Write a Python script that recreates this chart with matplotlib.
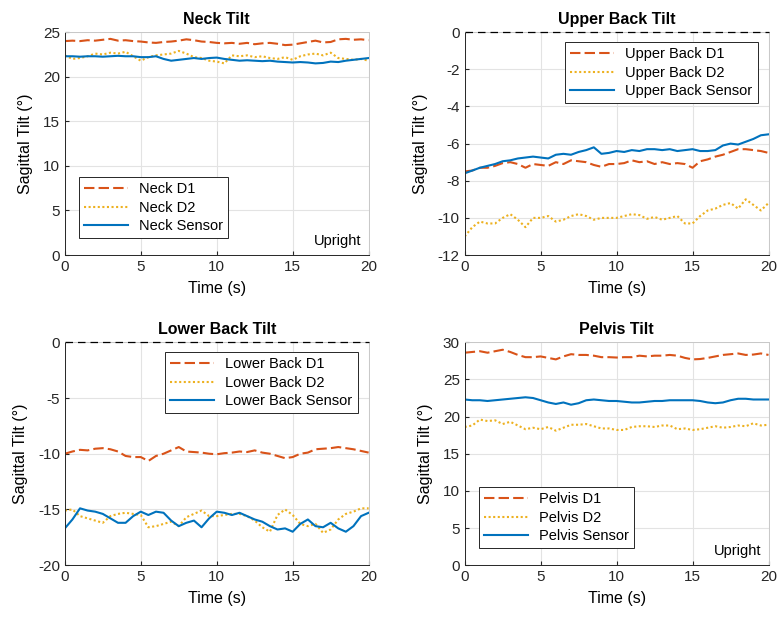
import matplotlib
matplotlib.use("Agg")
import matplotlib.pyplot as plt
import numpy as np

plt.rcParams['font.family'] = ['Liberation Sans', 'DejaVu Sans']
plt.rcParams['axes.unicode_minus'] = False

# time base, one sample every 0.5 s
t = np.arange(0, 20.5, 0.5)

neck_d1 = [24.0, 24.05, 24.0, 24.1, 24.05, 24.15, 24.25, 24.05, 24.1, 24.0, 23.95, 23.85, 23.8, 23.9,
           23.95, 24.05, 24.2, 24.1, 23.95, 23.9, 23.8, 23.75, 23.8, 23.7, 23.8, 23.65, 23.75, 23.8,
           23.7, 23.55, 23.6, 23.75, 23.9, 24.05, 23.85, 23.9, 24.2, 24.25, 24.15, 24.2, 24.1]
neck_d2 = [22.4, 22.0, 22.1, 22.3, 22.6, 22.5, 22.7, 22.6, 22.8, 22.3, 21.8, 22.2, 22.4, 22.5,
           22.6, 22.9, 22.6, 22.2, 22.1, 21.8, 21.7, 21.5, 22.4, 22.3, 22.4, 22.2, 22.3, 22.1,
           22.0, 22.2, 21.9, 22.3, 22.5, 22.6, 22.4, 22.7, 22.1, 22.0, 21.9, 22.0, 21.8]
neck_sensor = [22.3, 22.3, 22.25, 22.3, 22.3, 22.25, 22.3, 22.35, 22.3, 22.3, 22.2, 22.2, 22.3, 22.0,
               21.8, 21.9, 22.0, 22.1, 22.0, 22.1, 22.15, 22.0, 21.9, 21.8, 21.85, 21.8, 21.75, 21.8,
               21.7, 21.65, 21.6, 21.65, 21.6, 21.5, 21.55, 21.7, 21.65, 21.8, 21.9, 22.0, 22.1]

upper_d1 = [-7.5, -7.45, -7.3, -7.3, -7.2, -7.05, -7.0, -7.1, -7.3, -7.1, -7.15, -7.2, -7.0, -7.1,
            -6.9, -6.95, -7.0, -7.15, -7.25, -7.1, -7.1, -7.05, -6.9, -7.0, -6.95, -7.1, -7.0, -7.1,
            -7.05, -7.1, -7.3, -6.95, -6.85, -6.7, -6.6, -6.45, -6.3, -6.3, -6.35, -6.4, -6.5]
upper_d2 = [-11.0, -10.5, -10.2, -10.3, -10.3, -10.0, -9.8, -10.1, -10.5, -10.0, -10.0, -9.9, -10.2, -10.1,
            -9.9, -9.8, -9.9, -10.1, -10.0, -10.0, -10.0, -9.9, -9.8, -9.85, -10.05, -9.95, -10.1, -10.0,
            -9.9, -10.3, -10.3, -9.9, -9.6, -9.5, -9.3, -9.2, -9.5, -9.0, -9.3, -9.6, -9.2]
upper_sensor = [-7.6, -7.45, -7.3, -7.2, -7.1, -6.95, -6.9, -6.8, -6.75, -6.7, -6.75, -6.8, -6.6, -6.55,
                -6.6, -6.45, -6.35, -6.2, -6.55, -6.5, -6.4, -6.45, -6.35, -6.4, -6.3, -6.3, -6.35, -6.3,
                -6.4, -6.35, -6.3, -6.4, -6.4, -6.35, -6.1, -6.0, -6.05, -5.9, -5.75, -5.55, -5.5]

lower_d1 = [-10.0, -9.8, -9.65, -9.7, -9.55, -9.5, -9.6, -9.8, -10.2, -10.3, -10.3, -10.65, -10.2, -10.0,
            -9.7, -9.4, -9.8, -9.85, -9.9, -10.0, -10.05, -9.95, -9.9, -9.8, -9.85, -9.7, -9.9, -10.0,
            -10.2, -10.4, -10.3, -10.0, -9.9, -9.6, -9.55, -9.5, -9.4, -9.5, -9.6, -9.75, -9.9]
lower_d2 = [-15.1, -15.0, -15.6, -15.8, -16.0, -16.2, -15.6, -15.4, -15.3, -15.4, -15.5, -16.6, -16.5, -16.3,
            -16.1, -16.5, -15.7, -15.4, -15.1, -15.6, -15.6, -15.5, -15.4, -15.4, -15.6, -16.0, -16.6, -17.0,
            -15.5, -15.0, -15.5, -16.3, -16.5, -16.3, -17.1, -16.8, -15.9, -15.4, -15.2, -14.9, -14.9]
lower_sensor = [-16.7, -15.9, -14.9, -15.1, -15.2, -15.4, -15.8, -16.2, -16.2, -15.6, -15.2, -15.5, -15.2, -15.3,
                -16.0, -16.5, -16.2, -16.0, -16.6, -15.8, -15.2, -15.3, -15.5, -15.3, -15.6, -15.9, -16.1, -16.5,
                -16.8, -16.7, -17.0, -16.3, -15.9, -16.5, -16.6, -16.2, -16.7, -17.0, -16.5, -15.6, -15.3]

pelvis_d1 = [28.6, 28.7, 28.8, 28.6, 28.8, 29.0, 28.7, 28.3, 28.0, 28.0, 28.1, 27.9, 27.7, 28.1,
             28.4, 28.3, 28.3, 28.2, 28.0, 28.0, 27.95, 28.0, 28.0, 28.2, 28.1, 28.2, 28.2, 28.3,
             28.2, 27.9, 27.7, 27.75, 27.9, 28.1, 28.3, 28.4, 28.5, 28.3, 28.35, 28.5, 28.3]
pelvis_d2 = [18.6, 18.8, 19.6, 19.4, 19.5, 19.0, 19.3, 18.8, 18.3, 18.5, 18.3, 18.6, 18.1, 18.5,
             18.9, 18.9, 19.0, 18.7, 18.4, 18.4, 18.2, 18.2, 18.6, 18.7, 18.7, 18.6, 18.8, 18.8,
             18.3, 18.4, 18.2, 18.3, 18.5, 18.7, 18.5, 18.6, 18.8, 18.7, 19.1, 18.8, 18.9]
pelvis_sensor = [22.3, 22.2, 22.2, 22.1, 22.2, 22.3, 22.4, 22.5, 22.6, 22.5, 22.2, 21.9, 21.7, 21.9,
                 21.6, 21.8, 22.2, 22.3, 22.2, 22.1, 22.1, 22.0, 21.9, 21.9, 22.0, 22.1, 22.1, 22.2,
                 22.2, 22.2, 22.2, 22.1, 21.9, 21.8, 21.9, 22.2, 22.4, 22.4, 22.3, 22.3, 22.3]

c_d1 = '#D95319'
c_d2 = '#EDB120'
c_sensor = '#0072BD'

panels = [
    ("Neck Tilt", "Neck", neck_d1, neck_d2, neck_sensor, (0, 25), np.arange(0, 26, 5)),
    ("Upper Back Tilt", "Upper Back", upper_d1, upper_d2, upper_sensor, (-12, 0), np.arange(-12, 1, 2)),
    ("Lower Back Tilt", "Lower Back", lower_d1, lower_d2, lower_sensor, (-20, 0), np.arange(-20, 1, 5)),
    ("Pelvis Tilt", "Pelvis", pelvis_d1, pelvis_d2, pelvis_sensor, (0, 30), np.arange(0, 31, 5)),
]

fig = plt.figure(figsize=(7.81, 6.19), dpi=100)
positions = [
    [0.083, 0.588, 0.389, 0.360],
    [0.595, 0.588, 0.389, 0.360],
    [0.083, 0.087, 0.389, 0.360],
    [0.595, 0.087, 0.389, 0.360],
]

for i, (title, name, d1, d2, sensor, ylim, yticks) in enumerate(panels):
    ax = fig.add_axes(positions[i])
    ax.plot(t, d1, color=c_d1, linestyle=(0, (5, 2)), linewidth=1.5, label=name + " D1")
    ax.plot(t, d2, color=c_d2, linestyle=(0, (1, 1.2)), linewidth=1.5, label=name + " D2")
    ax.plot(t, sensor, color=c_sensor, linestyle='-', linewidth=1.5, label=name + " Sensor")
    if ylim[1] == 0:
        # zero reference line along the top edge
        ax.axhline(0, color='k', linestyle=(0, (6, 4)), linewidth=0.9, zorder=5, clip_on=False)

    ax.set_xlim(0, 20)
    ax.set_ylim(*ylim)
    ax.set_xticks([0, 5, 10, 15, 20])
    ax.set_yticks(yticks)
    ax.grid(True, color='#e3e3e3', linewidth=0.8)
    ax.set_axisbelow(True)
    ax.tick_params(direction='in', length=3, labelsize=11, colors='#262626')
    for side in ['left', 'bottom']:
        ax.spines[side].set_color('#262626')
        ax.spines[side].set_linewidth(0.7)
    for side in ['top', 'right']:
        ax.spines[side].set_color('#c8c8c8')
        ax.spines[side].set_linewidth(0.7)

    ax.set_title(title, fontsize=11.5, fontweight='bold', pad=6)
    ax.set_xlabel("Time (s)", fontsize=11.5, labelpad=5)
    ax.set_ylabel("Sagittal Tilt (°)", fontsize=11.5, labelpad=7)

    if ylim[0] == 0:
        leg = ax.legend(loc='lower left', bbox_to_anchor=(0.046, 0.076), borderaxespad=0,
                        fontsize=10.5, handlelength=3.0, handletextpad=0.8, labelspacing=0.3,
                        fancybox=False, framealpha=1, edgecolor='#262626', borderpad=0.35)
        ax.text(0.975, 0.03, "Upright", transform=ax.transAxes, ha='right', va='bottom', fontsize=10.5)
    else:
        leg = ax.legend(loc='upper right', bbox_to_anchor=(0.964, 0.955), borderaxespad=0,
                        fontsize=10.5, handlelength=3.0, handletextpad=0.8, labelspacing=0.3,
                        fancybox=False, framealpha=1, edgecolor='#262626', borderpad=0.35)
    leg.get_frame().set_linewidth(0.7)

plt.savefig('out.png', dpi=100)
